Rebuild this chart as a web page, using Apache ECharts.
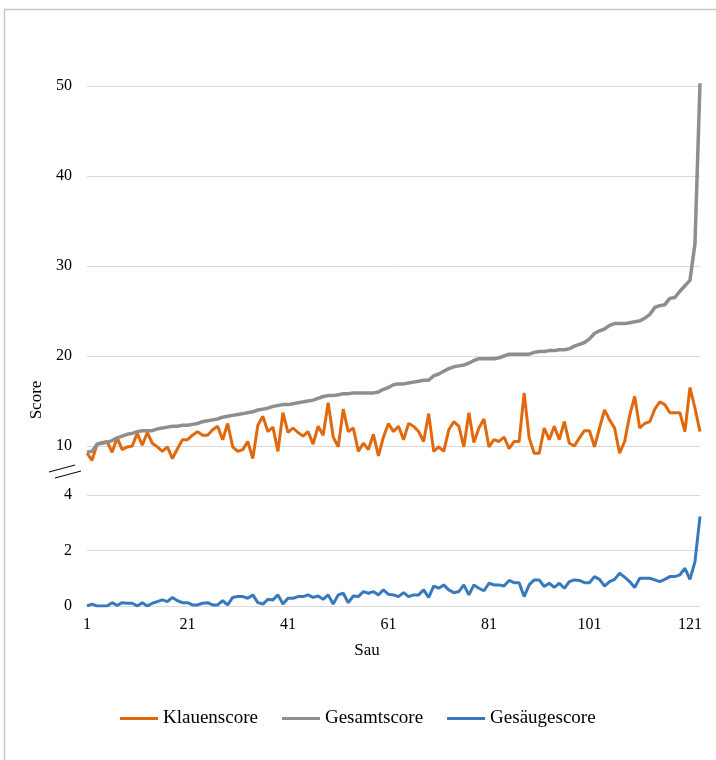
<!DOCTYPE html>
<html><head><meta charset="utf-8">
<script src="https://cdn.jsdelivr.net/npm/echarts@6/dist/echarts.min.js"></script>
<style>html,body{margin:0;padding:0;background:#fff}#c{width:716px;height:760px}</style>
</head><body><div id="c"></div>
<script>
// Categories: Sau 1..123
const sau = [];
for (let i = 1; i <= 123; i++) sau.push(String(i));

const klauenscore = [
 9.2, 8.4,10.2,10.4,10.5, 9.3,10.9, 9.6, 9.9,10.0,
11.4,10.1,11.5,10.3, 9.9, 9.4, 9.9, 8.6, 9.7,10.7,
10.7,11.2,11.6,11.2,11.2,11.8,12.2,10.7,12.5, 9.9,
 9.4, 9.6,10.5, 8.6,12.3,13.3,11.6,12.1, 9.4,13.7,
11.5,12.0,11.5,11.1,11.6,10.2,12.2,11.2,14.8,11.0,
 9.9,14.1,11.6,12.0, 9.4,10.3, 9.6,11.3, 8.9,11.0,
12.5,11.6,12.2,10.7,12.5,12.2,11.6,10.5,13.6, 9.4,
 9.9, 9.4,11.8,12.7,12.2, 9.9,13.7,10.4,12.0,13.0,
 9.9,10.7,10.5,11.0, 9.7,10.5,10.5,15.9,10.9, 9.2,
 9.2,12.0,10.7,12.2,10.7,12.7,10.3,10.0,10.9,11.7,
11.7, 9.9,12.0,14.0,12.9,12.0, 9.2,10.5,13.4,15.5,
12.0,12.5,12.7,14.1,14.9,14.6,13.7,13.7,13.7,11.6,
16.5,14.2,11.6
];

const gesamtscore = [
 9.3, 9.4,10.2,10.3,10.4,10.6,10.9,11.1,11.3,11.4,
11.6,11.7,11.7,11.7,11.9,12.0,12.1,12.2,12.2,12.3,
12.3,12.4,12.5,12.7,12.8,12.9,13.0,13.2,13.3,13.4,
13.5,13.6,13.7,13.8,14.0,14.1,14.2,14.4,14.5,14.6,
14.6,14.7,14.8,14.9,15.0,15.1,15.3,15.5,15.6,15.6,
15.7,15.8,15.8,15.9,15.9,15.9,15.9,15.9,16.0,16.3,
16.5,16.8,16.9,16.9,17.0,17.1,17.2,17.3,17.3,17.8,
18.0,18.3,18.6,18.8,18.9,19.0,19.2,19.5,19.7,19.7,
19.7,19.7,19.8,20.0,20.2,20.2,20.2,20.2,20.2,20.4,
20.5,20.5,20.6,20.6,20.7,20.7,20.8,21.1,21.3,21.5,
21.9,22.5,22.8,23.0,23.4,23.6,23.6,23.6,23.7,23.8,
23.9,24.2,24.6,25.4,25.6,25.7,26.4,26.5,27.2,27.8,
28.4,32.5,50.3
];

const gesaeugescore = [
0.00,0.07,0.00,0.00,0.00,0.12,0.02,0.12,0.10,0.10,
0.00,0.12,0.00,0.10,0.16,0.22,0.16,0.31,0.19,0.12,
0.12,0.04,0.04,0.10,0.12,0.04,0.04,0.19,0.04,0.31,
0.34,0.34,0.28,0.40,0.12,0.07,0.24,0.22,0.40,0.07,
0.28,0.28,0.34,0.34,0.40,0.31,0.36,0.24,0.40,0.07,
0.40,0.46,0.12,0.36,0.34,0.52,0.46,0.52,0.40,0.58,
0.42,0.40,0.34,0.48,0.34,0.40,0.40,0.58,0.31,0.72,
0.64,0.76,0.58,0.48,0.52,0.76,0.40,0.76,0.64,0.55,
0.82,0.76,0.76,0.72,0.92,0.84,0.84,0.34,0.76,0.94,
0.94,0.70,0.82,0.67,0.82,0.64,0.88,0.94,0.92,0.84,
0.84,1.06,0.96,0.72,0.88,0.96,1.18,1.04,0.88,0.67,
1.00,1.00,1.00,0.94,0.88,0.96,1.06,1.06,1.12,1.36,
0.96,1.60,3.23
];

const upperTicks = [10, 20, 30, 40, 50];
const lowerTicks = [0, 2, 4];

const FONT = '"Liberation Serif","Times New Roman",serif';
const ORANGE = '#E0690E', GRAY = '#8E8E8E', BLUE = '#3779BD';

const chart = echarts.init(document.getElementById('c'), null, {renderer: 'canvas'});
const gridLine = {show: true, lineStyle: {color: '#D9D9D9', width: 1}};
chart.setOption({
  animation: false,
  backgroundColor: '#fff',
  grid: [
    {left: 87, right: 16, top: 77, height: 387},
    {left: 87, right: 16, top: 495, height: 111}
  ],
  xAxis: [
    {type: 'category', gridIndex: 0, data: sau, boundaryGap: false, show: false},
    {type: 'category', gridIndex: 1, data: sau, boundaryGap: false,
     axisLine: {show: false}, axisTick: {show: false},
     axisLabel: {interval: 19, margin: 11, color: '#000', fontSize: 16, fontFamily: FONT}}
  ],
  yAxis: [
    {type: 'value', gridIndex: 0, min: 8, max: 51,
     axisLine: {show: false},
     axisTick: {show: false, customValues: upperTicks},
     axisLabel: {customValues: upperTicks, margin: 15, color: '#000', fontSize: 16, fontFamily: FONT},
     splitLine: gridLine},
    {type: 'value', gridIndex: 1, min: 0, max: 4, interval: 2,
     axisLine: {show: false}, axisTick: {show: false},
     axisLabel: {margin: 15, color: '#000', fontSize: 16, fontFamily: FONT},
     splitLine: gridLine}
  ],
  legend: {
    left: 120, top: 709, padding: 0,
    icon: 'rect', itemWidth: 38, itemHeight: 3, itemGap: 24,
    textStyle: {color: '#000', fontSize: 19, fontFamily: FONT},
    data: ['Klauenscore', 'Gesamtscore', 'Gesäugescore']
  },
  series: [
    {name: 'Klauenscore', type: 'line', xAxisIndex: 0, yAxisIndex: 0, data: klauenscore,
     showSymbol: false, color: ORANGE, lineStyle: {width: 3, color: ORANGE}},
    {name: 'Gesamtscore', type: 'line', xAxisIndex: 0, yAxisIndex: 0, data: gesamtscore,
     showSymbol: false, color: GRAY, lineStyle: {width: 3.5, color: GRAY}},
    {name: 'Gesäugescore', type: 'line', xAxisIndex: 1, yAxisIndex: 1, data: gesaeugescore,
     showSymbol: false, color: BLUE, lineStyle: {width: 3, color: BLUE}}
  ],
  graphic: [
    {type: 'rect', shape: {x: 4.5, y: 9.5, width: 760, height: 800}, silent: true,
     style: {fill: null, stroke: '#C8C8C8', lineWidth: 1.5}},
    {type: 'line', shape: {x1: 49, y1: 472, x2: 75, y2: 465}, style: {stroke: '#000', lineWidth: 1}},
    {type: 'line', shape: {x1: 55, y1: 478, x2: 81, y2: 471}, style: {stroke: '#000', lineWidth: 1}},
    {type: 'text', x: 37, y: 400, rotation: Math.PI / 2,
     style: {text: 'Score', align: 'center', verticalAlign: 'middle', fill: '#000', font: '17px ' + FONT}},
    {type: 'text', x: 367, y: 651,
     style: {text: 'Sau', align: 'center', verticalAlign: 'middle', fill: '#000', font: '17px ' + FONT}}
  ]
});
</script>
</body></html>
